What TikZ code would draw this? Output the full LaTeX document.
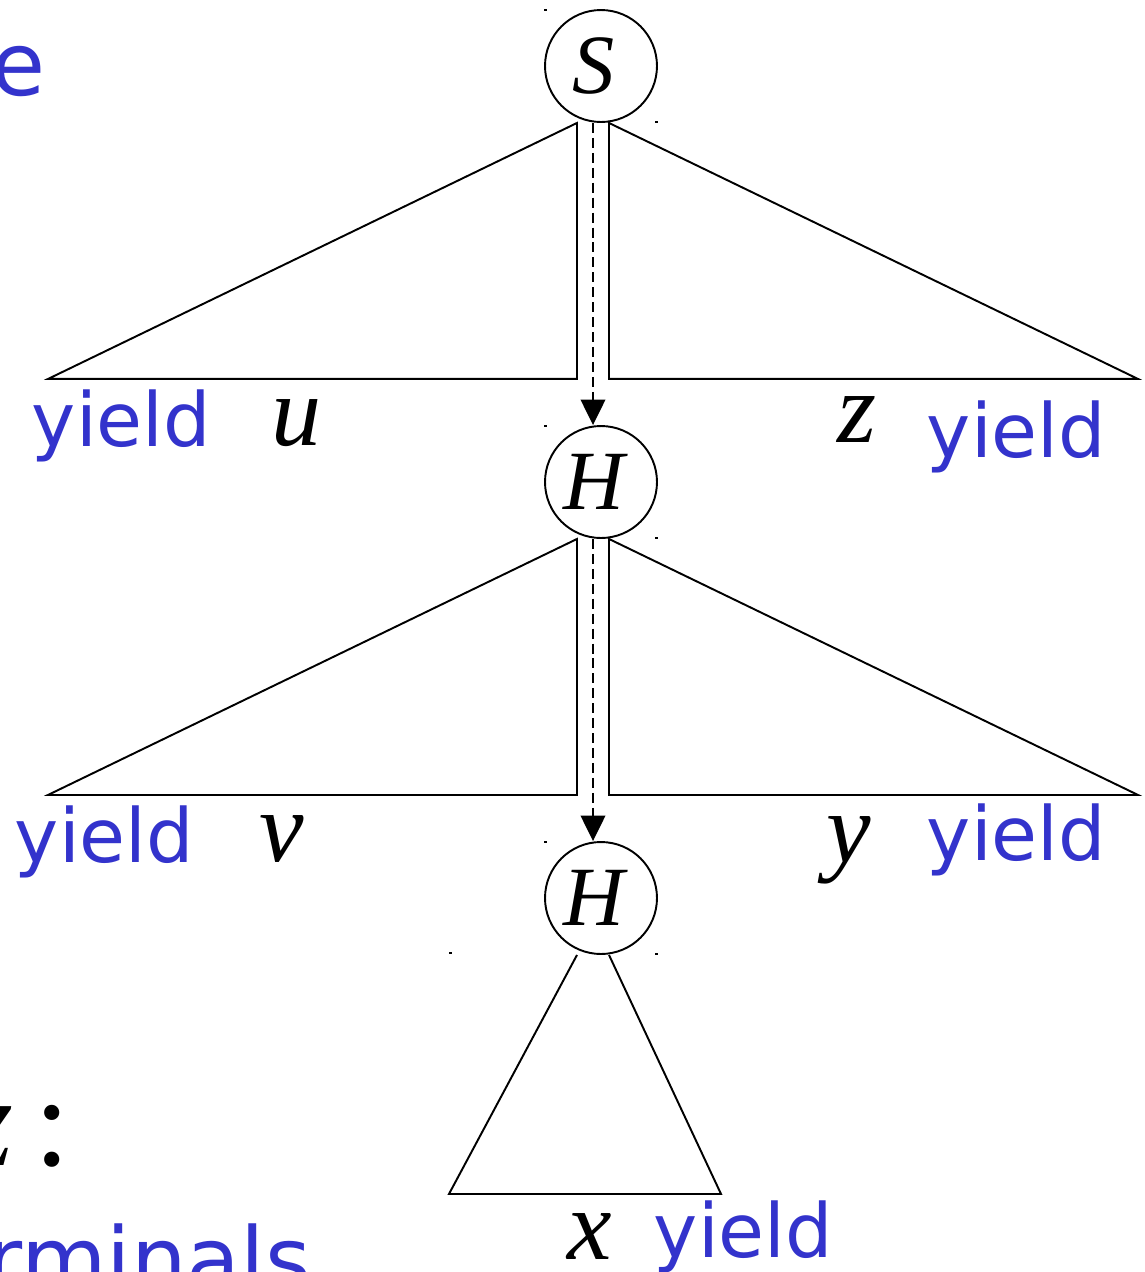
\documentclass[tikz,border=0pt]{standalone}
\usepackage{fontspec}
\setsansfont{DejaVu Sans}
\newfontfamily\tms{Liberation Serif}
\usepackage{tikz}
\usetikzlibrary{arrows.meta,calc}
\definecolor{yieldblue}{RGB}{51,51,204}

\begin{document}
\begin{tikzpicture}[x=0.02cm, y=-0.02cm, line width=1.1pt,
  vertex/.style={circle, draw, minimum size=2.24cm, inner sep=0pt,
    font=\tms\itshape\fontsize{48}{52}\selectfont},
  yieldlbl/.style={anchor=base west, inner sep=0pt, text=yieldblue,
    font=\sffamily\fontsize{42.5}{48}\selectfont},
  headlbl/.style={anchor=base east, inner sep=0pt, text=yieldblue,
    font=\sffamily\fontsize{50}{56}\selectfont},
  strlbl/.style={anchor=base, inner sep=0pt,
    font=\tms\itshape\fontsize{57}{62}\selectfont},
  spine/.style={dash pattern=on 5.7pt off 2.8pt,
    -{Triangle[length=14.5pt, width=14pt]}},
  corner/.style={fill, line width=0pt}]
  \useasboundingbox (0,0) rectangle (1144,1272);
  \clip (0,0) rectangle (1144,1272);
  % parse tree nodes
  \node[vertex] (S) at (601,66) {S\kern8pt};
  \node[vertex] (H1) at (601,482) {H\kern8pt};
  \node[vertex] (H2) at (601,898) {H\kern8pt};
  % subtrees under S
  \draw ($(S.south)+(-24,0)$) -- ++(0,256) -- ++(-529,0) -- cycle;
  \draw ($(S.south)+(8,0)$) -- ++(0,256) -- ++(529,0) -- cycle;
  \draw[spine] ($(S.south)+(-8,0)$) -- ($(H1.north)+(-8,0)$);
  % subtrees under the upper H
  \draw ($(H1.south)+(-24,0)$) -- ++(0,256) -- ++(-529,0) -- cycle;
  \draw ($(H1.south)+(8,0)$) -- ++(0,256) -- ++(529,0) -- cycle;
  \draw[spine] ($(H1.south)+(-8,0)$) -- ($(H2.north)+(-8,0)$);
  % subtree under the lower H
  \draw ($(H2.south)+(-24,0)$) -- ++(-128,239) -- ++(272,0) -- ($(H2.south)+(8,0)$);
  % corner marks
  \fill[corner] (S.west |- S.north) rectangle +(3,2);
  \fill[corner] (S.east |- S.south) rectangle +(-3,-2);
  \fill[corner] (H1.west |- H1.north) rectangle +(3,2);
  \fill[corner] (H1.east |- H1.south) rectangle +(-3,-2);
  \fill[corner] (H2.west |- H2.north) rectangle +(3,2);
  \fill[corner] (H2.east |- H2.south) rectangle +(-3,-2);
  \fill[corner] (449,954) rectangle +(3,-2);
  % strings and yields
  \node[yieldlbl] (yu) at (31,446) {yield};
  \node[strlbl] (u) at (297,445) {u};
  \node[strlbl] (z) at (857,442) {z};
  \node[yieldlbl] (yz) at (926,457) {yield};
  \node[yieldlbl] (yv) at (14,862) {yield};
  \node[strlbl] (v) at (282,861) {v};
  \node[strlbl] (y) at (849,862) {y};
  \node[yieldlbl] (yy) at (926,860) {yield};
  \node[strlbl] (x) at (590,1259) {x};
  \node[yieldlbl] (yx) at (653,1257) {yield};
  % cut-off text at the left border
  \node[headlbl] (head) at (46.7,95) {e};
  \node[anchor=base east, inner sep=0pt, font=\tms\fontsize{73}{78}\selectfont]
    (cond) at (71,1165) {\textit{z}\,:};
  \node[headlbl] (terms) at (311.8,1290) {rminals};
\end{tikzpicture}
\end{document}
